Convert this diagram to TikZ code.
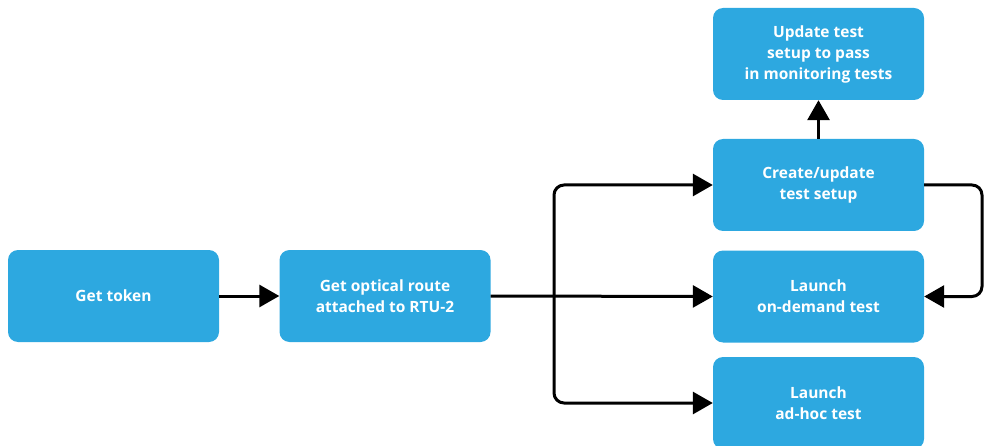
\documentclass[tikz,border=0pt]{standalone}
\usepackage{fontspec}
\setmainfont{Open Sans}
\usetikzlibrary{arrows.meta}
\definecolor{boxblue}{HTML}{2DA8E0}
\tikzset{
  box/.style={draw=none, fill=boxblue, rounded corners=10pt, minimum width=211pt, minimum height=92pt,
    inner sep=0pt, align=center, text=white, font=\fontsize{15.5}{21}\selectfont\bfseries},
  conn/.style={line width=3pt, -{Triangle[length=20pt,width=22pt]}}
}
\begin{document}
\begin{tikzpicture}[x=1pt,y=-1pt]
\useasboundingbox (0,0) rectangle (984,446);
\node[box] (token) at (113.5,296) {Get token};
\node[box] (route) at (385,296) {Get optical route\\attached to RTU-2};
\node[box] (update) at (818.5,54) {Update test\\setup to pass\\in monitoring tests};
\node[box] (create) at (818.5,185) {Create/update\\test setup};
\node[box] (ondemand) at (818.5,296.5) {Launch\\on-demand test};
\node[box] (adhoc) at (818.5,403) {Launch\\ad-hoc test};
\coordinate (j) at (554,296);
\coordinate (r1) at (982,185);
\coordinate (r2) at (982,296.5);
\draw[conn] (token) -- (route);
\draw[conn] (route.east) -- (ondemand.west);
\draw[conn, rounded corners=10pt] (j) |- (create.west);
\draw[conn, rounded corners=10pt] (j) |- (adhoc.west);
\draw[conn] (create.north) -- (update.south);
\draw[conn, rounded corners=10pt] (create.east) -- (r1) -- (r2) -- (ondemand.east);
\end{tikzpicture}
\end{document}
